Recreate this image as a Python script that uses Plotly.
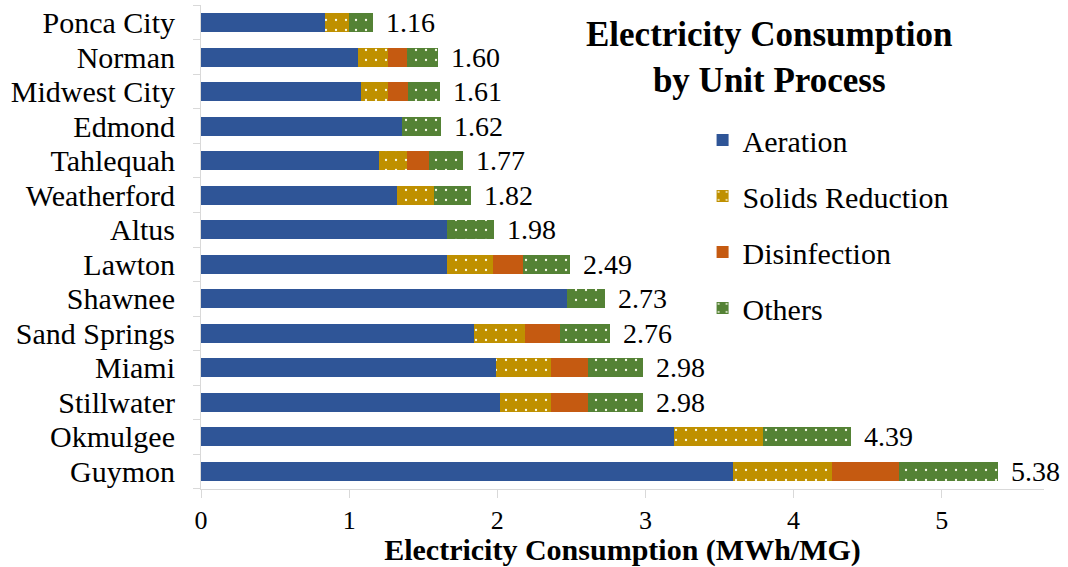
import plotly.graph_objects as go

# Facilities, listed top to bottom as drawn
cities = ["Ponca City", "Norman", "Midwest City", "Edmond", "Tahlequah",
          "Weatherford", "Altus", "Lawton", "Shawnee", "Sand Springs",
          "Miami", "Stillwater", "Okmulgee", "Guymon"]

# Electricity consumption per unit process (MWh/MG)
aeration = [0.84, 1.06, 1.08, 1.36, 1.20, 1.32, 1.66, 1.66, 2.47, 1.84, 1.99, 2.02, 3.19, 3.59]
solids_reduction = [0.16, 0.20, 0.18, 0.00, 0.19, 0.25, 0.00, 0.31, 0.00, 0.35, 0.37, 0.34, 0.60, 0.67]
disinfection = [0.00, 0.13, 0.14, 0.00, 0.15, 0.00, 0.00, 0.20, 0.00, 0.23, 0.25, 0.25, 0.00, 0.45]
others = [0.16, 0.21, 0.21, 0.26, 0.23, 0.25, 0.32, 0.32, 0.26, 0.34, 0.37, 0.37, 0.60, 0.67]

x_ticks = [0, 1, 2, 3, 4, 5]

FONT = "Liberation Serif, Times New Roman, serif"
BLUE = "#2F5597"
GOLD = "#BF9000"
ORANGE = "#C55A11"
GREEN = "#548235"
AXIS_GRAY = "#D9D9D9"

series = [
    ("Aeration", aeration, BLUE, False),
    ("Solids Reduction", solids_reduction, GOLD, True),
    ("Disinfection", disinfection, ORANGE, False),
    ("Others", others, GREEN, True),
]

fig = go.Figure()
for name, values, color, dotted in series:
    marker = dict(color=color, line=dict(width=0))
    if dotted:
        marker["pattern"] = dict(shape=".", fgcolor="#FFFFF0", bgcolor=color,
                                 size=10, solidity=0.04, fillmode="replace")
    fig.add_trace(go.Bar(
        name=name, y=cities, x=values, orientation="h",
        marker=marker, legendgroup=name,
        hoverinfo="x+y+name",
    ))

totals = [a + s + d + o for a, s, d, o in zip(aeration, solids_reduction, disinfection, others)]

annotations = []
for city, total in zip(cities, totals):
    annotations.append(dict(
        x=total, y=city, xref="x", yref="y", text=f"{total:.2f}",
        showarrow=False, xanchor="left", yanchor="middle", xshift=11,
        font=dict(family=FONT, size=28, color="black"),
    ))

annotations.append(dict(
    x=0.6746, y=0.983, xref="paper", yref="paper",
    text="<b>Electricity Consumption<br>by Unit Process</b>",
    showarrow=False, xanchor="center", yanchor="top", align="center",
    font=dict(family=FONT, size=35, color="black"),
))

fig.update_layout(
    width=1068, height=567,
    margin=dict(l=201, r=24, t=5, b=78),
    paper_bgcolor="white", plot_bgcolor="white",
    barmode="stack", bargap=0.45,
    font=dict(family=FONT, color="black"),
    showlegend=True,
    legend=dict(
        x=0.595, y=0.775, xanchor="left", yanchor="top",
        traceorder="grouped", tracegroupgap=14,
        font=dict(family=FONT, size=30, color="black"),
        bgcolor="rgba(0,0,0,0)",
    ),
    annotations=annotations,
    xaxis=dict(
        range=[0, 5.69], tickvals=x_ticks, ticktext=[str(v) for v in x_ticks],
        showgrid=False, zeroline=False,
        showline=True, linecolor=AXIS_GRAY, linewidth=1,
        ticks="outside", ticklen=8, tickcolor=AXIS_GRAY,
        tickfont=dict(family=FONT, size=26, color="black"),
        title=dict(text="<b>Electricity Consumption (MWh/MG)</b>",
                   font=dict(family=FONT, size=30, color="black"), standoff=5),
    ),
    yaxis=dict(
        autorange="reversed", showgrid=False, zeroline=False,
        showline=True, linecolor=AXIS_GRAY, linewidth=1,
        ticks="outside", ticklen=7, tickcolor=AXIS_GRAY, tickson="boundaries",
        tickmode="array", tickvals=cities, ticktext=cities,
        tickfont=dict(family=FONT, size=30, color="black"),
        ticklabelstandoff=19,
    ),
)

fig.write_html("out.html")
